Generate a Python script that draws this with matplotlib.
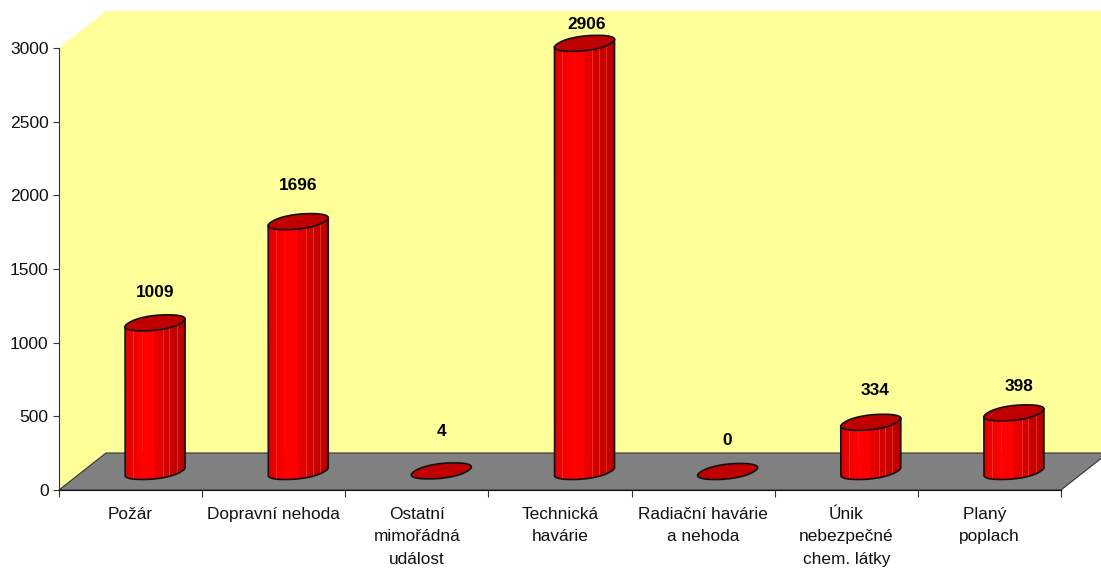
import numpy as np
import matplotlib as mpl
import matplotlib.pyplot as plt

mpl.use('Agg')
plt.rcParams['font.family'] = ['Liberation Sans', 'DejaVu Sans']

kategorie = ["Požár", "Dopravní nehoda", "Ostatní\nmimořádná\nudálost", "Technická\nhavárie",
             "Radiační havárie\na nehoda", "Únik\nnebezpečné\nchem. látky", "Planý  \npoplach"]
hodnoty = [1009, 1696, 4, 2906, 0, 334, 398]
popisky = ["1009", "1696", "4", "2906", "0", "334", "398"]
# how far each number sits from its bar, in pixels (not regular in the original)
zdvih = [30, 36, 39, 19, 31, 32, 26]
posun_x = [0, 0, 0, 2, 0, 4, 5]

W, H = 1101, 571
LEFT, RIGHT, BOTTOM, TOP = 59, 1061, 490, 48
PX_X = (RIGHT - LEFT) / 7
PX_Y = (BOTTOM - TOP) / 3000
HLOUBKA = (47, 37)   # 3d depth of the box, pixels


def dx(p):
    return p / PX_X


def dy(p):
    return p / PX_Y


fig = plt.figure(figsize=(W / 100, H / 100), dpi=100)
ax = fig.add_axes([LEFT / W, 1 - BOTTOM / H, (RIGHT - LEFT) / W, (BOTTOM - TOP) / H])
ax.set_xlim(0, 7)
ax.set_ylim(0, 3000)
ax.patch.set_visible(False)

hx, hy = dx(HLOUBKA[0]), dy(HLOUBKA[1])
# walls and floor
ax.fill([0, hx, 7 + hx, 7 + hx, hx, 0], [0, hy, hy, 3000 + hy, 3000 + hy, 3000],
        color='#FFFF99', lw=0, clip_on=False, zorder=0)
ax.fill([0, hx, 7 + hx, 7], [0, hy, hy, 0], facecolor='#808080', edgecolor='#333333',
        lw=0.8, clip_on=False, zorder=1)

# outline of the cylinder cross-section, a bit squarish like the original
t = np.linspace(0, 2 * np.pi, 721)[:-1]
c = np.sign(np.cos(t)) * np.abs(np.cos(t)) ** 0.9
s = np.sign(np.sin(t)) * np.abs(np.sin(t)) ** 0.9
ox = 25 * c + 12 * s
oy = 8.0 * s
ox = ox * 30 / ox.max()
i_l, i_r = ox.argmin(), ox.argmax()
# front half goes from the leftmost to the rightmost point through the lower side
predek = np.arange(i_l, i_r + 1) if i_r > i_l else np.r_[np.arange(i_l, 720), np.arange(0, i_r + 1)]
fx, fy = ox[predek], oy[predek]


def barva(u):
    if u < 0.3:
        return 0.86 + 0.14 * u / 0.3, 0, 0
    if u < 0.5:
        return 1.0, 0, 0
    if u < 0.62:
        return 0.9, 0, 0
    return 0.85 - 0.13 * (u - 0.62) / 0.38, 0, 0


def bar3d(x0, v):
    cx = x0 + hx / 2 + dx(1)
    cy = hy / 2
    if v > 10:
        n = 24
        okraje = -30 + 60 * np.arange(n + 1) / n
        for i in range(n):
            m = (fx >= okraje[i] - 0.5) & (fx <= okraje[i + 1] + 0.5)
            xs = cx + dx(fx[m])
            ys = cy + dy(fy[m])
            ax.fill(np.r_[xs, xs[::-1]], np.r_[ys, ys[::-1] + v], color=barva((i + 0.5) / n),
                    lw=0, clip_on=False, zorder=3)
        for u in [0.13, 0.63, 0.74, 0.86]:
            j = np.abs(fx - (-30 + 60 * u)).argmin()
            ax.plot([cx + dx(fx[j])] * 2, [cy + dy(fy[j]), cy + dy(fy[j]) + v], color='#F04A20',
                    lw=0.6, alpha=0.8, clip_on=False, zorder=4)
        ax.plot(np.r_[cx + dx(fx[0]), cx + dx(fx), cx + dx(fx[-1])],
                np.r_[cy + dy(fy[0]) + v, cy + dy(fy), cy + dy(fy[-1]) + v],
                color='#111111', lw=1.2, clip_on=False, zorder=5)
    ax.fill(cx + dx(ox), cy + v + dy(oy), facecolor='#C00000', edgecolor='#111111', lw=1.2,
            clip_on=False, zorder=6)
    return cx


for i in range(len(hodnoty)):
    cx = bar3d(i + 0.5, hodnoty[i])
    ax.text(cx + dx(posun_x[i]), hy / 2 + hodnoty[i] + dy(zdvih[i]), popisky[i], ha='center', va='center',
            fontsize=12.4, fontweight='bold', color='black', clip_on=False, zorder=7)

ax.set_yticks(range(0, 3001, 500))
ax.set_xticks(range(8))
ax.set_xticklabels([])
ax.set_xticks(np.arange(7) + 0.5, minor=True)
ax.set_xticklabels(kategorie, minor=True, linespacing=1.64, fontsize=12.4, color='#111111')
ax.tick_params(axis='x', which='major', length=5, width=0.8, color='#333333')
ax.tick_params(axis='x', which='minor', length=0, pad=12)
ax.tick_params(axis='y', length=4.5, width=0.8, color='#333333', labelsize=12.6, pad=3, labelcolor='#111111')

for s_ in ['top', 'right']:
    ax.spines[s_].set_visible(False)
ax.spines['left'].set_color('#333333')
ax.spines['bottom'].set_color('#111111')
ax.spines['left'].set_zorder(2)
ax.spines['bottom'].set_zorder(2)

fig.savefig('out.png', dpi=100)
